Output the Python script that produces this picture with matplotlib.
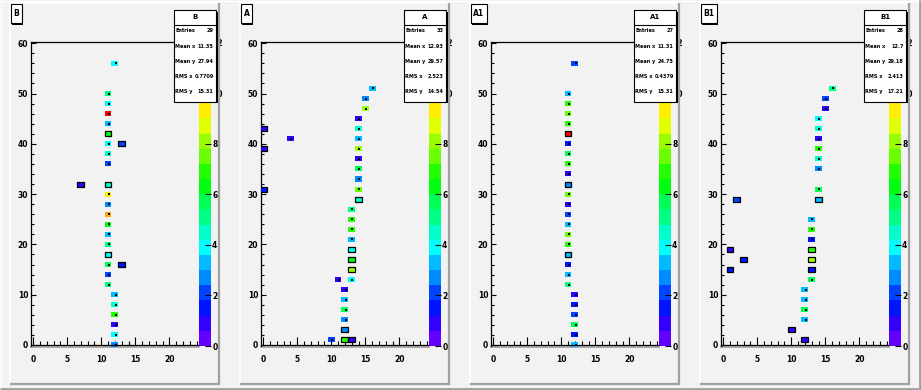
import numpy as np
import matplotlib
matplotlib.use('Agg')
import matplotlib.pyplot as plt
from matplotlib.colors import ListedColormap, BoundaryNorm, hsv_to_rgb
from matplotlib.patches import Rectangle
from matplotlib.lines import Line2D

W, H = 921, 390

titles = ['B', 'A', 'A1', 'B1']

# ---- panel B ----
b_x = [12, 11, 11, 11, 11, 11, 11, 11, 11, 13, 7, 11, 11, 11, 11, 11, 11, 11, 11,
       11, 13, 11, 11, 12, 12, 12, 12, 12, 12]
b_y = [56, 50, 48, 46, 44, 42, 40, 38, 36, 40, 32, 32, 30, 28, 26, 24, 22, 20, 18,
       16, 16, 14, 12, 10, 8, 6, 4, 2, 0]
b_w = [3.9, 5.1, 3.9, 11.7, 3.3, 6.3, 3.9, 4.5, 2.1, 2.1, 0.9, 4.5, 9.3, 2.7, 9.9, 6.3, 3.3, 5.1, 3.9,
       5.7, 1.5, 2.1, 5.1, 3.3, 4.5, 6.9, 0.9, 3.9, 2.7]
b_boxed = [0, 0, 0, 0, 0, 1, 0, 0, 0, 1, 1, 1, 0, 0, 0, 0, 0, 0, 1,
           0, 1, 0, 0, 0, 0, 0, 0, 0, 0]

# ---- panel A ----
a_x = [16, 15, 15, 14, 14, 14, 14, 14, 14, 14, 14, 14, 13, 13, 13, 13, 13, 13, 13, 13,
       11, 12, 12, 12, 12, 12, 12, 10, 13, 0, 0, 0, 4]
a_y = [51, 49, 47, 45, 43, 41, 39, 37, 35, 33, 31, 29, 27, 25, 23, 21, 19, 17, 15, 13,
       13, 11, 9, 7, 5, 3, 1, 1, 1, 43, 39, 31, 41]
a_w = [3.3, 2.7, 8.1, 0.9, 4.5, 3.3, 8.1, 0.9, 5.7, 2.7, 7.5, 4.5, 5.1, 6.9, 6.9, 3.3, 3.9, 6.3, 8.1, 3.9,
       0.9, 0.9, 3.3, 5.7, 2.7, 2.7, 6.9, 2.1, 0.9, 0.9, 0.9, 1.5, 0.9]
a_boxed = [0, 0, 0, 0, 0, 0, 0, 0, 0, 0, 0, 1, 0, 0, 0, 0, 1, 1, 1, 0,
           0, 0, 0, 0, 0, 1, 1, 0, 1, 1, 1, 1, 0]

# ---- panel A1 ----
a1_x = [12, 11, 11, 11, 11, 11, 11, 11, 11, 11, 11, 11, 11, 11, 11, 11, 11, 11, 11, 11, 11,
        12, 12, 12, 12, 12, 12]
a1_y = [56, 50, 48, 46, 44, 42, 40, 38, 36, 34, 32, 30, 28, 26, 24, 22, 20, 18, 16, 14, 12,
        10, 8, 6, 4, 2, 0]
a1_w = [2.1, 3.3, 6.9, 7.5, 6.9, 11.7, 1.5, 5.7, 6.9, 0.9, 2.7, 7.5, 0.9, 2.1, 3.3, 7.5, 6.9, 3.3, 1.5, 3.3, 5.1,
        0.9, 1.5, 2.1, 5.7, 1.5, 3.3]
a1_boxed = [0, 0, 0, 0, 0, 1, 0, 0, 0, 0, 1, 0, 0, 0, 0, 0, 0, 1, 0, 0, 0,
            0, 0, 0, 0, 0, 0]

# ---- panel B1 ----
b1_x = [16, 15, 15, 14, 14, 14, 14, 14, 14, 14, 14, 13, 13, 13, 13, 13, 13, 13,
        12, 12, 12, 12, 12, 10, 2, 1, 3, 1]
b1_y = [51, 49, 47, 45, 43, 41, 39, 37, 35, 31, 29, 25, 23, 21, 19, 17, 15, 13,
        11, 9, 7, 5, 1, 3, 29, 19, 17, 15]
b1_w = [5.1, 2.1, 0.9, 3.9, 4.5, 0.9, 6.9, 4.5, 2.7, 5.7, 3.3, 3.3, 6.9, 1.5, 6.9, 8.1, 1.5, 5.7,
        3.3, 3.3, 5.7, 3.3, 0.9, 0.9, 2.1, 0.9, 1.5, 1.5]
b1_boxed = [0, 0, 0, 0, 0, 0, 0, 0, 0, 0, 1, 0, 0, 0, 1, 1, 1, 0,
            0, 0, 0, 0, 1, 1, 1, 1, 1, 1]

stats_labels = ['Entries', 'Mean x', 'Mean y', 'RMS x', 'RMS y']
b_stats = ['29', '11.35', '27.94', '0.7709', '15.31']
a_stats = ['33', '12.93', '29.57', '2.523', '14.54']
a1_stats = ['27', '11.31', '24.75', '0.4379', '15.31']
b1_stats = ['28', '12.7', '29.18', '2.413', '17.21']

x_ticks = [0, 5, 10, 15, 20]
y_ticks = [0, 10, 20, 30, 40, 50, 60]
z_ticks = [0, 2, 4, 6, 8, 10, 12]
z_max = 12
n_contours = 20

panels = [
    (b_x, b_y, b_w, b_boxed, b_stats),
    (a_x, a_y, a_w, a_boxed, a_stats),
    (a1_x, a1_y, a1_w, a1_boxed, a1_stats),
    (b1_x, b1_y, b1_w, b1_boxed, b1_stats),
]

# ROOT "pretty" palette (hue 280 -> 0), 50 colours sampled into 20 contours
band_colors = []
for k in range(n_contours):
    idx = int((k + 0.99) * 50 / n_contours)
    hue = 280 - (idx + 1) * 280 / 50
    band_colors.append(hsv_to_rgb([hue / 360.0, 1.0, 1.0]))
cmap = ListedColormap(band_colors)
levels = np.linspace(0, z_max, n_contours + 1)
norm = BoundaryNorm(levels, n_contours)

BG = '#f2f2f2'
SHADOW = '#a0a0a0'
fig = plt.figure(figsize=(W / 100, H / 100), dpi=100, facecolor=BG)


def fx(px):
    return px / W


def fy(py):
    return 1 - py / H


def fline(x0, y0, x1, y1, color, lw, z=5):
    fig.add_artist(Line2D([fx(x0), fx(x1)], [fy(y0), fy(y1)], color=color, lw=lw,
                          zorder=z, solid_capstyle='butt'))


def fbox(x0, y0, x1, y1, fc, ec, lw, z=6):
    fig.add_artist(Rectangle((fx(x0), fy(y1)), fx(x1) - fx(x0), fy(y0) - fy(y1),
                             facecolor=fc, edgecolor=ec, lw=lw, zorder=z,
                             transform=fig.transFigure))


# canvas border
fline(0, 0.5, W, 0.5, 'white', 1.0)
fline(0.5, 0, 0.5, H, 'white', 1.0)
fline(W - 1.2, 0, W - 1.2, H, SHADOW, 2.0)
fline(0, H - 1.2, W, H - 1.2, SHADOW, 2.0)

for i, (px_, py_, pw_, pbox, pstats) in enumerate(panels):
    off = 230 * i
    # pad border
    fline(9.5 + off, 2.5, 220 + off, 2.5, 'white', 1.2)
    fline(9.5 + off, 2.5, 9.5 + off, 383.5, 'white', 1.2)
    fline(219.3 + off, 2.5, 219.3 + off, 384.5, SHADOW, 1.6)
    fline(9.5 + off, 383.5, 220 + off, 383.5, SHADOW, 1.6)

    # frame
    fl, fr, ft, fb = 30.7 + off, 199.3 + off, 41.7, 346.5
    ax = fig.add_axes([fx(fl), fy(fb), fx(fr) - fx(fl), fy(ft) - fy(fb)])
    ax.set_facecolor(BG)
    ax.set_xlim(-0.38, 24.41)
    ax.set_ylim(-0.3, 60.3)
    x = np.array(px_)
    y = np.array(py_)
    w = np.array(pw_)
    bx = np.array(pbox).astype(bool)
    cols = cmap(norm(w))
    ax.bar(x[~bx], 1.0, bottom=y[~bx] - 0.5, width=1.0, color=cols[~bx],
           linewidth=0, zorder=2)
    ax.bar(x[bx], 1.0, bottom=y[bx] - 0.5, width=1.0, color=cols[bx],
           edgecolor='black', linewidth=0.9, zorder=3)
    ax.scatter(x[~bx] + 0.1, y[~bx], marker='s', s=2.0, c='black', linewidths=0, zorder=4)

    for s in ['right']:
        ax.spines[s].set_visible(False)
    ax.spines['left'].set_linewidth(0.9)
    ax.spines['top'].set_linewidth(0.9)
    ax.spines['bottom'].set_position(('data', 0))
    ax.spines['bottom'].set_linewidth(0.9)
    ax.plot([0, 1], [0, 0], transform=ax.transAxes, color=SHADOW, lw=1.2,
            clip_on=False, zorder=1)

    ax.set_xticks(x_ticks)
    ax.set_xticks(np.arange(1, 25), minor=True)
    ax.set_yticks(y_ticks)
    ax.set_yticks(np.arange(0, 61, 2), minor=True)
    ax.tick_params(axis='x', which='major', direction='in', length=5.8, width=0.8,
                   pad=7.0, labelsize=5.5)
    ax.tick_params(axis='x', which='minor', direction='in', length=2.9, width=0.8)
    ax.tick_params(axis='y', which='major', direction='in', length=3.8, width=0.8,
                   pad=1.8, labelsize=5.5)
    ax.tick_params(axis='y', which='minor', direction='in', length=2.0, width=0.8)
    for lab in ax.get_xticklabels() + ax.get_yticklabels():
        lab.set_fontweight('bold')

    # palette
    pl, pr, pt, pb = 199.3 + off, 211.3 + off, 42.5, 346.0
    cax = fig.add_axes([fx(pl), fy(pb), fx(pr) - fx(pl), fy(pt) - fy(pb)])
    cax.set_facecolor(BG)
    cax.bar(np.zeros(n_contours), np.diff(levels), bottom=levels[:-1], width=1.0,
            color=band_colors, linewidth=0)
    cax.set_xlim(-0.5, 0.5)
    cax.set_ylim(0, z_max)
    for s in cax.spines.values():
        s.set_visible(False)
    cax.set_xticks([])
    cax.yaxis.tick_right()
    cax.set_yticks(z_ticks)
    cax.tick_params(axis='y', direction='in', length=4.0, width=0.8, pad=0.6,
                    labelsize=5.5)
    for lab in cax.get_yticklabels():
        lab.set_fontweight('bold')

    # title box
    tw = 11.0 if len(titles[i]) == 1 else 16.0
    tx0 = 11 + off
    fbox(tx0 + 1.3, 5.6, tx0 + tw + 1.3, 24.6, 'black', 'black', 0.0, z=6)
    fbox(tx0, 4.3, tx0 + tw, 23.3, 'white', 'black', 0.8, z=7)
    fig.text(fx(tx0 + tw / 2), fy(14.0), titles[i], ha='center', va='center',
             fontsize=5.5, fontweight='bold', zorder=8)

    # stats box
    sx0, sx1, sy0, sy1 = 174 + off, 216.3 + off, 10, 101.7
    fbox(sx0 + 1.6, sy0 + 1.6, sx1 + 1.6, sy1 + 1.6, 'black', 'black', 0.0, z=6)
    fbox(sx0, sy0, sx1, sy1, 'white', 'black', 0.8, z=7)
    fline(sx0, 25, sx1, 25, 'black', 0.8, z=8)
    fig.text(fx((sx0 + sx1) / 2), fy(17.0), titles[i], ha='center', va='center',
             fontsize=5.0, fontweight='bold', zorder=9)
    for r, (lab, val) in enumerate(zip(stats_labels, pstats)):
        yy = 31 + r * 15.2
        fig.text(fx(sx0 + 1.2), fy(yy), lab, ha='left', va='center',
                 fontsize=3.6, fontweight='bold', zorder=9)
        fig.text(fx(sx1 - 2.5), fy(yy), val, ha='right', va='center',
                 fontsize=3.6, fontweight='bold', zorder=9)

fig.savefig('out.png', dpi=100, facecolor=BG)
